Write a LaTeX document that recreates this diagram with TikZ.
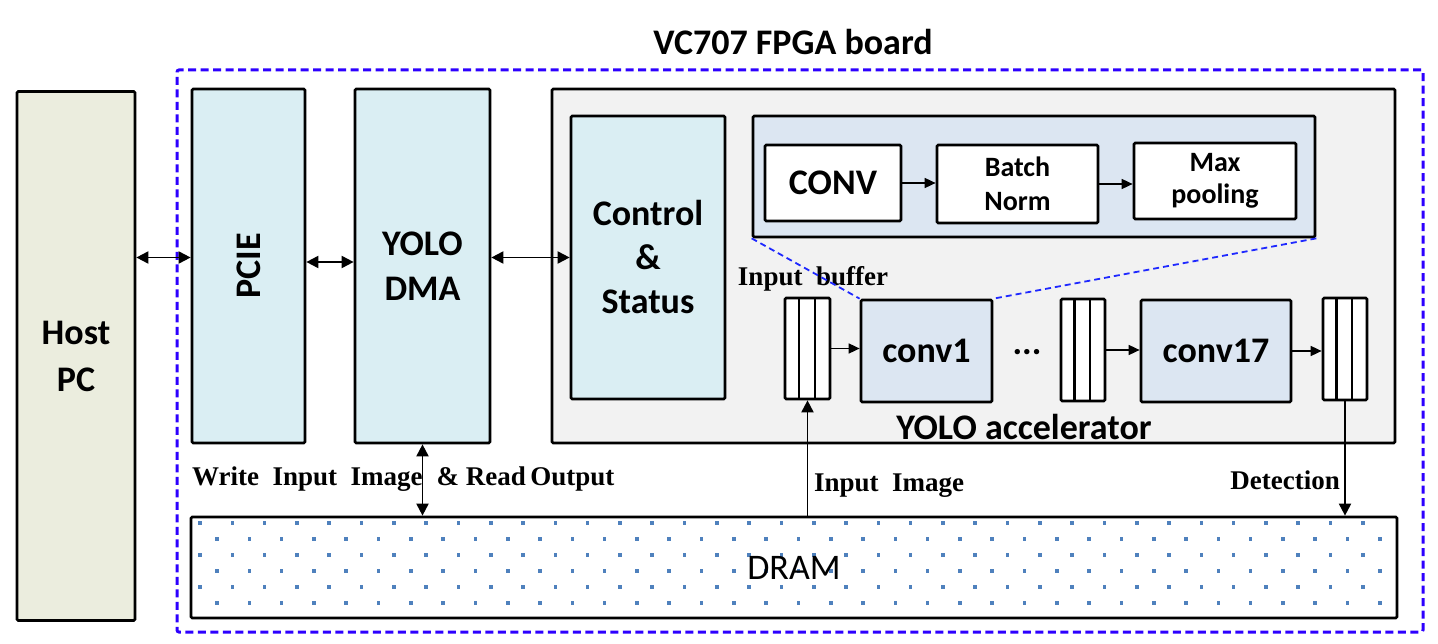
\documentclass[tikz,border=0pt]{standalone}
\usepackage{fontspec}
\setmainfont{Carlito}
\newfontfamily\tnrfont{Liberation Serif}
\usetikzlibrary{arrows.meta,calc}
\definecolor{hostfill}{HTML}{EBEDDE}
\definecolor{bluefill}{HTML}{DAEEF3}
\definecolor{accfill}{HTML}{F2F2F2}
\definecolor{insetfill}{HTML}{DCE6F2}
\definecolor{framecol}{RGB}{45,0,255}
\definecolor{zoomcol}{RGB}{30,40,255}
\definecolor{dotcol}{HTML}{4F81BD}
\newcommand\fsz[2]{\fontsize{#1}{#2}\selectfont}
\tikzset{
  box/.style={draw, line width=2.7pt, rounded corners=1.2pt, inner sep=0pt, align=center},
  bigtext/.style={font=\fsz{36}{45}\bfseries},
  bluebox/.style={box, fill=bluefill, bigtext},
  convbox/.style={box, fill=insetfill, bigtext},
  whitebox/.style={box, fill=white},
  bufbox/.style={box, fill=white,
    path picture={
      \draw[line width=2.4pt]
        ($(path picture bounding box.north west)!0.31!(path picture bounding box.north east)$) --
        ($(path picture bounding box.south west)!0.31!(path picture bounding box.south east)$);
      \draw[line width=2.4pt]
        ($(path picture bounding box.north west)!0.66!(path picture bounding box.north east)$) --
        ($(path picture bounding box.south west)!0.66!(path picture bounding box.south east)$);
    }},
  frame/.style={draw=framecol, line width=3pt, dash pattern=on 8pt off 4.5pt, rounded corners=2pt, inner sep=0pt},
  zoomline/.style={draw=zoomcol, line width=1.8pt, dash pattern=on 6pt off 4pt},
  conn/.style={line width=1.9pt},
  both/.style={conn, {Triangle[length=12pt,width=12pt]}-{Triangle[length=12pt,width=12pt]}},
  fwd/.style={conn, -{Triangle[length=12pt,width=12pt]}},
  smallfwd/.style={line width=1.6pt, -{Triangle[length=11pt,width=10pt]}},
  tlabel/.style={font=\tnrfont\bfseries\fsz{27}{30}, inner sep=0pt},
}
\begin{document}
\begin{tikzpicture}[x=1pt,y=-1pt]
\useasboundingbox (0,0) rectangle (1438,644);
\fill[white] (0,0) rectangle (1438,644);

% board frame and title
\node[frame, minimum width=1246, minimum height=562] (board) at (800,351) {};
\node[font=\fsz{36}{40}\bfseries, inner sep=0pt] (title) at (793,42) {VC707 FPGA board};

% host
\node[box, fill=hostfill, bigtext, minimum width=118, minimum height=529, font=\fsz{36}{47}\bfseries] (host) at (76,356) {Host\\PC};

% PCIE and DMA
\node[bluebox, minimum width=113, minimum height=354,
      label={[rotate=90, font=\fsz{36}{40}\bfseries]center:PCIE}] (pcie) at (248.5,266) {};
\node[bluebox, minimum width=135, minimum height=354] (dma) at (422.5,266) {YOLO\\DMA};

% accelerator
\node[box, fill=accfill, minimum width=843, minimum height=354] (acc) at (973.5,266) {};
\node[bluebox, minimum width=154, minimum height=283, font=\fsz{36}{44}\bfseries] (ctrl) at (648,257.5) {Control\\\&\\Status};

% zoom inset
\node[box, fill=insetfill, minimum width=562, minimum height=121] (inset) at (1034,176.5) {};
\node[whitebox, bigtext, minimum width=136, minimum height=76] (conv) at (833,183) {CONV};
\node[whitebox, font=\fsz{28}{34}\bfseries, minimum width=161, minimum height=78] (bn) at (1017.5,184) {Batch\\Norm};
\node[whitebox, font=\fsz{28}{32}\bfseries, minimum width=162, minimum height=76] (mp) at (1215,181) {Max\\pooling};
\draw[smallfwd] (conv.east) -- (conv.east -| bn.west);
\draw[smallfwd] (bn.east) -- (bn.east -| mp.west);

% pipeline
\node[bufbox, minimum width=45, minimum height=101] (buf1) at (807.5,348.5) {};
\node[convbox, minimum width=131, minimum height=102] (conv1) at (926.5,351) {conv1};
\node[bigtext, inner sep=0pt] (dots) at (1027,352) {...};
\node[bufbox, minimum width=44, minimum height=102] (buf2) at (1083,350) {};
\node[convbox, minimum width=150, minimum height=102] (conv17) at (1216,351) {conv17};
\node[bufbox, minimum width=44, minimum height=102] (buf3) at (1345,349) {};
\draw[smallfwd] (buf1.east) -- (buf1.east -| conv1.west);
\draw[smallfwd] (buf2.east) -- (buf2.east -| conv17.west);
\draw[smallfwd] (conv17.east) -- (conv17.east -| buf3.west);
\node[tlabel] (inbuflabel) at (813,279) {Input\ \ buffer};
\node[bigtext, inner sep=0pt] (acclabel) at (1024,427) {YOLO accelerator};

% zoom lines
\draw[zoomline] (inset.south west) -- (conv1.north west);
\draw[zoomline] (inset.south east) -- (conv1.north east);

% DRAM with dots
\foreach \r in {0,...,5}{
  \pgfmathsetmacro\yy{523+16*\r}
  \pgfmathsetmacro\xs{200+17*mod(\r,2)}
  \foreach \k in {0,...,36}{
    \pgfmathsetmacro\xx{\xs+32.3*\k}
    \fill[dotcol] (\xx-1.8,\yy-1.8) rectangle ++(3.6,3.6);
  }
}
\node[box, minimum width=1206, minimum height=101, font=\fsz{36}{40}] (dram) at (794,567.5) {DRAM};

% connectors
\draw[both] (host.east |- ctrl.west) -- (pcie.west |- ctrl.west);
\draw[both] ([yshift=4pt]pcie.east) -- ([yshift=4pt]pcie.east -| dma.west);
\draw[both] (dma.east |- ctrl.west) -- (ctrl.west);
\draw[both] (dma.south) -- (dma.south |- dram.north);
\draw[fwd] (buf1.south |- dram.north) -- (buf1.south);
\draw[fwd] (buf3.south) -- (buf3.south |- dram.north);

% text labels
\node[tlabel, anchor=west] (wlabel) at (192,479) {Write\ \ Input\ \ Image\hspace{14pt}\&\ Read\,Output};
\node[tlabel, anchor=west] (inimg) at (814,486) {Input\ \ Image};
\node[tlabel, anchor=east] (detlabel) at (1340,480) {Detection};
\end{tikzpicture}
\end{document}
